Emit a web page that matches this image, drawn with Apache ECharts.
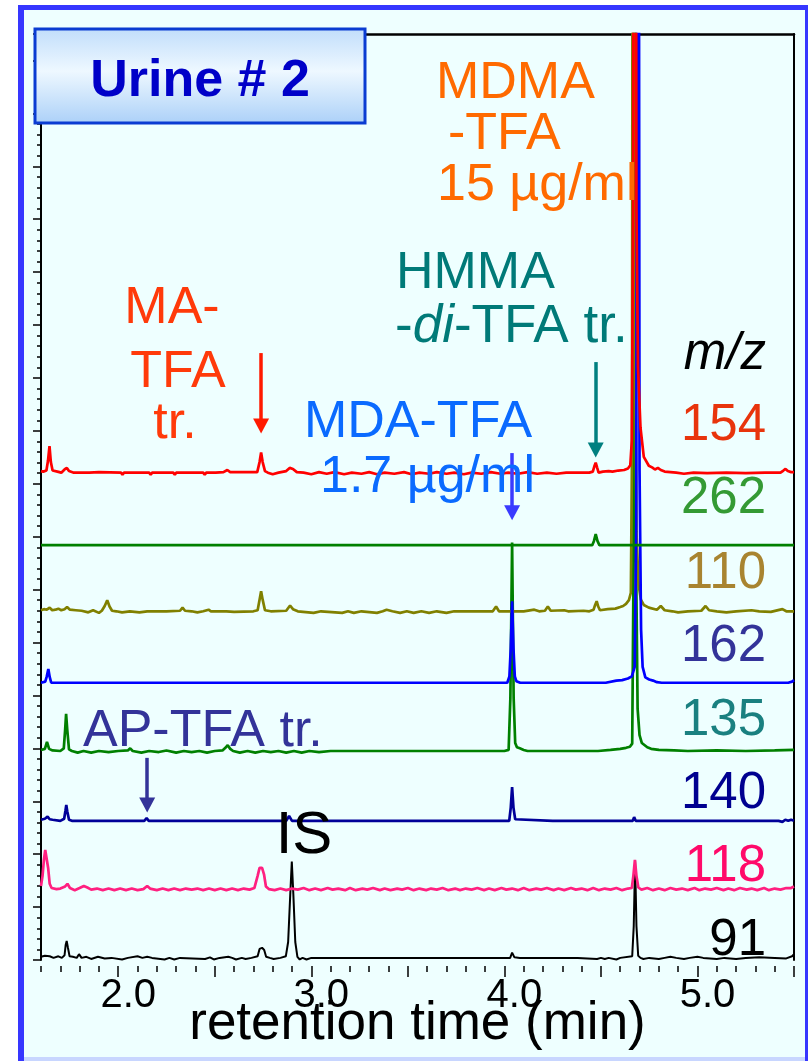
<!DOCTYPE html>
<html><head><meta charset="utf-8">
<script src="https://cdn.jsdelivr.net/npm/echarts@6/dist/echarts.min.js"></script>
<style>html,body{margin:0;padding:0;background:#fff}#c{width:808px;height:1061px}</style>
</head><body><div id="c"></div><script>
// ---------- data ----------
const traceIds = ['154','262','110','162','135','140','118','91'];
const traceColors = ['#ff0000','#008000','#808000','#0000ff','#008000','#000099','#ff2080','#000000'];
const labelColors = ['#e8340c','#349a34','#a88430','#333399','#1a8080','#000090','#ff0a6a','#000000'];
const baselines = [9.21,7.84,6.59,5.24,3.95,2.63,1.34,0.04];
const drawOrder = ['91','118','140','135','110','162','262','154'];

const trace154 = [[1.600,0.03],[1.612,0.02],[1.628,0.04],[1.636,0.22],[1.644,0.50],[1.651,0.20],[1.660,0.04],[1.685,0.02],[1.705,0.00],[1.722,0.06],[1.734,0.09],[1.745,0.03],[1.770,0.00],[1.850,0.00],[1.900,0.01],[2.015,0.00],[2.022,-0.04],[2.030,0.00],[2.160,0.00],[2.168,-0.04],[2.176,0.00],[2.285,0.00],[2.293,-0.04],[2.300,0.00],[2.440,0.00],[2.448,-0.04],[2.456,0.00],[2.490,0.00],[2.497,-0.03],[2.505,0.00],[2.545,0.01],[2.565,0.05],[2.580,0.01],[2.720,0.01],[2.732,0.20],[2.740,0.38],[2.748,0.20],[2.760,0.03],[2.775,0.00],[2.800,-0.03],[2.830,0.00],[2.870,0.03],[2.888,0.09],[2.905,0.07],[2.925,0.01],[2.960,0.00],[3.000,-0.03],[3.040,0.01],[3.080,-0.02],[3.120,0.01],[3.170,-0.03],[3.210,0.00],[3.260,-0.02],[3.300,0.01],[3.340,-0.03],[3.380,0.00],[3.430,-0.02],[3.480,0.01],[3.520,-0.03],[3.560,0.00],[3.610,-0.02],[3.650,0.01],[3.700,-0.02],[3.740,0.00],[3.790,-0.03],[3.830,0.00],[3.880,-0.02],[3.930,0.01],[3.980,-0.02],[4.020,0.00],[4.070,-0.02],[4.120,0.01],[4.170,-0.02],[4.220,0.00],[4.270,-0.02],[4.320,0.00],[4.380,0.00],[4.440,0.00],[4.458,0.02],[4.466,0.12],[4.473,0.19],[4.480,0.10],[4.488,0.00],[4.498,-0.03],[4.510,0.02],[4.540,0.03],[4.560,0.02],[4.590,0.04],[4.620,0.05],[4.640,0.08],[4.652,0.14],[4.660,0.6],[4.667,5],[4.675,30],[4.684,5],[4.692,2],[4.705,0.85],[4.722,0.30],[4.748,0.13],[4.765,0.10],[4.780,0.06],[4.795,0.09],[4.810,0.05],[4.830,0.02],[4.860,0.01],[4.890,0.00],[4.930,-0.02],[4.980,0.00],[5.050,-0.01],[5.150,0.00],[5.250,-0.01],[5.350,0.00],[5.430,0.00],[5.445,0.04],[5.456,0.07],[5.468,0.03],[5.485,0.01],[5.500,0.01]];
const trace262 = [[1.600,0],[4.455,0],[4.464,0.08],[4.473,0.21],[4.482,0.08],[4.492,0],[5.500,0]];
const trace110 = [[1.600,0.02],[1.615,0.04],[1.630,0.03],[1.645,0.07],[1.658,0.02],[1.675,0.03],[1.690,0.05],[1.705,0.02],[1.722,0.04],[1.735,0.08],[1.750,0.03],[1.780,0.02],[1.810,0.01],[1.845,-0.02],[1.870,0.02],[1.900,-0.03],[1.915,0.01],[1.930,0.10],[1.943,0.21],[1.955,0.09],[1.968,0.01],[1.990,0.00],[2.020,-0.02],[2.060,0.00],[2.110,-0.02],[2.150,0.00],[2.250,0.00],[2.320,0.01],[2.333,0.07],[2.346,0.01],[2.380,0.00],[2.410,-0.02],[2.440,0.00],[2.468,0.03],[2.480,0.00],[2.560,0.00],[2.600,-0.01],[2.700,0.00],[2.722,0.02],[2.732,0.22],[2.740,0.38],[2.748,0.22],[2.760,0.02],[2.790,0.00],[2.870,0.01],[2.890,0.11],[2.905,0.04],[2.930,0.00],[3.012,-0.03],[3.050,0.00],[3.160,-0.03],[3.190,0.00],[3.220,-0.03],[3.260,0.00],[3.340,-0.03],[3.370,0.00],[3.390,0.03],[3.420,0.00],[3.460,-0.03],[3.495,0.00],[3.530,-0.03],[3.570,0.00],[3.610,-0.03],[3.650,0.00],[3.700,-0.03],[3.740,0.00],[3.860,0.00],[3.940,0.00],[3.957,0.09],[3.972,0.00],[4.000,0.00],[4.100,0.00],[4.155,0.03],[4.180,0.00],[4.210,0.01],[4.225,0.09],[4.240,0.01],[4.310,0.02],[4.330,0.00],[4.410,0.01],[4.440,0.00],[4.462,0.03],[4.470,0.12],[4.478,0.19],[4.486,0.09],[4.495,0.02],[4.535,0.04],[4.575,0.05],[4.600,0.08],[4.615,0.10],[4.630,0.14],[4.645,0.21],[4.655,0.35],[4.661,3],[4.668,30],[4.676,5],[4.684,1.5],[4.695,0.5],[4.707,0.22],[4.722,0.12],[4.748,0.07],[4.790,0.03],[4.810,0.10],[4.830,0.02],[4.870,0.00],[4.900,-0.02],[4.950,0.00],[5.020,0.01],[5.042,0.10],[5.060,0.02],[5.100,0.00],[5.150,-0.02],[5.200,0.00],[5.280,0.02],[5.320,0.00],[5.380,-0.01],[5.440,0.04],[5.460,0.00],[5.500,0.00]];
const trace162 = [[1.600,0.00],[1.622,0.02],[1.630,0.12],[1.638,0.26],[1.645,0.11],[1.653,0.00],[4.015,0.00],[4.026,0.12],[4.033,0.65],[4.040,1.54],[4.047,0.65],[4.054,0.12],[4.062,0.03],[4.072,0.05],[4.082,0.00],[4.525,0.00],[4.530,0.03],[4.580,0.04],[4.610,0.05],[4.640,0.08],[4.660,0.12],[4.675,0.30],[4.683,3],[4.692,30],[4.700,4],[4.708,1],[4.716,0.30],[4.730,0.10],[4.750,0.06],[4.770,0.04],[4.790,0.01],[4.800,0.03],[4.815,0.00],[5.470,0.00],[5.490,0.02],[5.500,0.05]];
const trace135 = [[1.600,0.02],[1.620,0.04],[1.631,0.17],[1.642,0.04],[1.660,0.01],[1.700,0.00],[1.718,0.05],[1.725,0.40],[1.730,0.70],[1.736,0.40],[1.745,0.03],[1.760,0.00],[1.790,-0.03],[1.820,0.00],[1.860,-0.03],[1.900,0.00],[1.950,-0.02],[2.000,0.00],[2.050,0.01],[2.062,0.05],[2.075,0.00],[2.120,-0.03],[2.160,0.00],[2.210,-0.02],[2.250,0.01],[2.300,-0.03],[2.340,0.00],[2.380,-0.02],[2.420,0.00],[2.460,-0.03],[2.500,0.00],[2.540,0.01],[2.555,0.06],[2.567,0.11],[2.580,0.04],[2.595,0.00],[2.630,-0.03],[2.670,0.00],[2.710,-0.03],[2.750,0.00],[2.790,-0.02],[2.830,0.00],[2.870,-0.03],[2.910,0.00],[2.950,-0.03],[2.990,0.00],[3.040,-0.02],[3.100,0.00],[3.500,0.00],[3.700,0.00],[4.000,0.00],[4.022,0.02],[4.031,1.0],[4.040,3.94],[4.048,1.0],[4.056,0.15],[4.065,0.07],[4.080,0.05],[4.100,0.02],[4.120,0.00],[4.460,0.00],[4.470,0.03],[4.485,0.00],[4.550,0.02],[4.600,0.04],[4.630,0.06],[4.650,0.08],[4.662,0.14],[4.668,3],[4.674,30],[4.681,4],[4.690,0.8],[4.700,0.30],[4.712,0.15],[4.740,0.07],[4.760,0.04],[4.800,0.02],[4.880,0.01],[4.950,0.00],[5.100,0.01],[5.250,0.00],[5.400,0.01],[5.500,0.02]];
const trace140 = [[1.600,0.02],[1.620,0.04],[1.634,0.08],[1.645,0.03],[1.660,0.02],[1.700,0.00],[1.720,0.04],[1.727,0.20],[1.731,0.30],[1.736,0.18],[1.745,0.02],[1.760,0.00],[2.135,0.00],[2.147,0.05],[2.158,0.00],[2.870,0.00],[2.885,0.09],[2.900,0.00],[3.520,0.00],[3.525,-0.03],[3.530,0.00],[3.640,0.00],[3.645,-0.03],[3.650,0.00],[3.740,0.00],[3.745,-0.02],[3.750,0.00],[3.800,0.00],[3.805,-0.02],[3.810,0.00],[4.025,0.00],[4.033,0.25],[4.040,0.64],[4.047,0.25],[4.056,0.03],[4.066,0.00],[4.250,0.00],[4.255,-0.03],[4.260,0.00],[4.290,0.00],[4.295,-0.03],[4.300,0.00],[4.665,0.00],[4.672,0.07],[4.680,0.00],[4.740,0.00],[4.745,-0.02],[4.750,0.00],[4.790,0.00],[4.795,-0.02],[4.800,0.00],[5.070,0.00],[5.075,0.03],[5.080,0.00],[5.240,0.00],[5.250,0.03],[5.260,0.00],[5.420,0.00],[5.430,0.03],[5.440,-0.02],[5.455,0.02],[5.470,0.00],[5.485,0.02],[5.500,0.00]];
const trace118 = [[1.600,0.06],[1.608,0.25],[1.615,0.55],[1.622,0.74],[1.630,0.72],[1.637,0.40],[1.645,0.10],[1.655,0.02],[1.680,0.00],[1.700,0.01],[1.725,0.05],[1.737,0.10],[1.750,0.02],[1.775,-0.02],[1.800,0.02],[1.822,0.06],[1.840,0.03],[1.860,-0.01],[1.890,0.01],[1.920,-0.02],[1.950,0.01],[1.980,-0.02],[2.010,0.01],[2.040,-0.02],[2.070,0.01],[2.100,-0.02],[2.130,0.00],[2.150,0.06],[2.165,0.01],[2.200,-0.02],[2.230,0.01],[2.260,-0.02],[2.290,0.01],[2.320,-0.02],[2.350,0.01],[2.380,-0.01],[2.410,0.01],[2.440,-0.02],[2.470,0.01],[2.500,-0.02],[2.530,0.01],[2.560,-0.02],[2.590,0.01],[2.620,-0.02],[2.650,0.01],[2.680,-0.01],[2.705,0.02],[2.722,0.25],[2.732,0.40],[2.745,0.40],[2.755,0.28],[2.765,0.05],[2.780,0.00],[2.810,-0.02],[2.840,0.01],[2.870,-0.02],[2.900,0.01],[2.930,-0.01],[2.960,0.02],[2.990,-0.02],[3.020,0.01],[3.050,-0.02],[3.085,0.02],[3.110,-0.01],[3.140,0.01],[3.175,-0.02],[3.200,0.02],[3.230,-0.02],[3.265,0.01],[3.290,-0.01],[3.320,0.02],[3.355,-0.02],[3.380,0.01],[3.410,-0.02],[3.445,0.01],[3.470,-0.01],[3.500,0.02],[3.530,-0.02],[3.560,0.01],[3.595,-0.02],[3.620,0.01],[3.650,-0.01],[3.680,0.02],[3.710,-0.02],[3.745,0.01],[3.770,-0.02],[3.800,0.01],[3.830,-0.01],[3.860,0.02],[3.895,-0.02],[3.920,0.01],[3.950,-0.02],[3.985,0.02],[4.010,-0.01],[4.040,0.01],[4.070,-0.02],[4.100,0.02],[4.130,-0.02],[4.165,0.01],[4.190,-0.01],[4.220,0.02],[4.255,-0.02],[4.280,0.01],[4.310,-0.02],[4.345,0.02],[4.370,-0.01],[4.400,0.01],[4.430,-0.02],[4.460,0.02],[4.490,-0.02],[4.520,0.01],[4.550,-0.01],[4.580,0.02],[4.610,-0.02],[4.640,0.01],[4.660,0.02],[4.668,0.25],[4.676,0.55],[4.684,0.25],[4.694,0.03],[4.710,-0.01],[4.740,0.02],[4.770,-0.02],[4.800,0.01],[4.830,-0.02],[4.860,0.02],[4.890,-0.01],[4.920,0.01],[4.950,-0.02],[4.985,0.02],[5.010,-0.02],[5.040,0.01],[5.070,-0.01],[5.100,0.02],[5.135,-0.02],[5.160,0.01],[5.190,-0.02],[5.220,0.02],[5.255,-0.01],[5.280,0.01],[5.310,-0.02],[5.345,0.02],[5.370,-0.02],[5.400,0.01],[5.430,-0.01],[5.460,0.02],[5.485,0.02],[5.500,0.05]];
const trace91 = [[1.600,0.02],[1.620,0.04],[1.645,0.03],[1.665,0.00],[1.690,0.03],[1.708,0.00],[1.722,0.05],[1.728,0.25],[1.733,0.32],[1.739,0.20],[1.748,0.03],[1.765,0.02],[1.785,0.00],[1.797,0.07],[1.810,0.00],[1.835,0.02],[1.860,-0.02],[1.895,0.02],[1.930,-0.01],[1.965,0.00],[2.020,-0.03],[2.050,0.00],[2.100,0.03],[2.125,0.00],[2.150,0.02],[2.175,0.00],[2.240,-0.03],[2.265,0.00],[2.290,-0.03],[2.320,0.00],[2.450,-0.02],[2.475,0.01],[2.495,-0.03],[2.525,0.00],[2.570,0.02],[2.590,0.00],[2.610,-0.03],[2.640,0.00],[2.660,-0.02],[2.690,0.00],[2.722,0.03],[2.732,0.17],[2.745,0.19],[2.756,0.15],[2.766,0.02],[2.785,0.00],[2.805,-0.02],[2.840,0.00],[2.868,0.03],[2.880,0.30],[2.891,1.20],[2.899,1.82],[2.907,1.20],[2.917,0.30],[2.928,0.02],[2.940,-0.03],[2.955,0.00],[2.975,-0.03],[3.000,0.00],[3.260,0.00],[3.270,-0.02],[3.285,0.00],[3.600,0.00],[3.800,0.00],[4.030,0.00],[4.040,0.10],[4.052,0.01],[4.080,0.00],[4.300,0.00],[4.310,-0.02],[4.320,0.00],[4.360,0.00],[4.370,-0.02],[4.380,0.00],[4.480,-0.02],[4.500,0.00],[4.520,-0.02],[4.540,0.00],[4.580,-0.03],[4.600,0.00],[4.662,0.03],[4.670,0.60],[4.677,1.84],[4.684,0.60],[4.693,0.04],[4.705,0.00],[4.720,-0.02],[4.750,0.00],[4.800,-0.02],[4.830,0.00],[4.860,0.02],[4.890,0.00],[4.930,-0.02],[4.960,0.00],[5.000,0.02],[5.030,0.00],[5.100,-0.02],[5.140,0.00],[5.200,-0.02],[5.250,0.00],[5.320,0.01],[5.400,0.00],[5.460,-0.01],[5.490,0.03],[5.500,0.07]];
const traces = [trace154,trace262,trace110,trace162,trace135,trace140,trace118,trace91];

const xMinorTickStep = 0.1;
const xMajorTicks = [2.0,2.5,3.0,3.5,4.0,4.5,5.0,5.5];
const xTickLabels = [2,3,4,5];
const xTitle = 'retention time (min)';
const panelTitle = 'Urine # 2';

// ---------- chart ----------
const FONT = '"Liberation Sans", Arial, Helvetica, sans-serif';
const chart = echarts.init(document.getElementById('c'));

const series = drawOrder.map(id => {
  const i = traceIds.indexOf(id);
  return {
    type: 'line', name: 'm/z ' + id,
    data: traces[i].map(p => [p[0], baselines[i] + p[1]]),
    showSymbol: false, symbol: 'none', silent: true, animation: false,
    lineStyle: { color: traceColors[i], width: id === '91' ? 2 : 2.7 },
    clip: true
  };
});

// arrows
const arrowSeries = series[drawOrder.indexOf('262')];
arrowSeries.markLine = {
  silent: true, animation: false,
  symbol: ['none', 'triangle'], symbolSize: [16, 15],
  label: { show: false },
  lineStyle: { width: 3.5, type: 'solid' },
  data: [
    [{ coord: [2.74, 11.47], lineStyle: { color: '#ff1a00', width: 3.5, type: 'solid' } }, { coord: [2.74, 10.09] }],
    [{ coord: [4.473, 11.30], lineStyle: { color: '#008080', width: 3.5, type: 'solid' } }, { coord: [4.473, 9.64] }],
    [{ coord: [4.04, 9.58], lineStyle: { color: '#3a3aff', width: 3.5, type: 'solid' } }, { coord: [4.04, 8.45] }],
    [{ coord: [2.15, 3.82], lineStyle: { color: '#333399', width: 3.5, type: 'solid' } }, { coord: [2.15, 2.93] }]
  ]
};

function txt(text, x, y, fill, opts) {
  opts = opts || {};
  return {
    type: 'text', x: x, y: y, z: 60, silent: true,
    style: Object.assign({
      text: text, fill: fill, fontSize: opts.size || 52, fontFamily: FONT,
      fontWeight: opts.weight || 'normal', fontStyle: opts.style || 'normal',
      align: opts.align || 'left', verticalAlign: 'middle'
    }, opts.extra || {})
  };
}

const mzY = [426, 499, 574, 647, 721, 794, 867, 941];
const graphic = [
  { type: 'rect', z: -10, silent: true, shape: { x: 24, y: 10, width: 781, height: 1047 }, style: { fill: '#eeffff' } },
  { type: 'rect', z: -9, silent: true, shape: { x: 18, y: 5, width: 6, height: 1056 }, style: { fill: '#3636ff' } },
  { type: 'rect', z: -9, silent: true, shape: { x: 18, y: 5, width: 790, height: 5 }, style: { fill: '#3636ff' } },
  { type: 'rect', z: -9, silent: true, shape: { x: 805, y: 5, width: 3, height: 1056 }, style: { fill: '#3636ff' } },
  { type: 'rect', z: -9, silent: true, shape: { x: 24, y: 1057, width: 781, height: 4 }, style: { fill: '#c8d6ff' } },
  { type: 'rect', z: 50, silent: true, shape: { x: 35, y: 29, width: 330, height: 94 },
    style: { fill: new echarts.graphic.LinearGradient(0, 0, 0, 1, [
      { offset: 0, color: '#c0ddfb' }, { offset: 0.45, color: '#eef8ff' }, { offset: 1, color: '#abd0f8' }]),
      stroke: '#0a3cd2', lineWidth: 3 } },
  txt(panelTitle, 200, 82, '#0000c8', { weight: 'bold', align: 'center' }),
  txt('MDMA', 436, 83.5, '#ff6a00'),
  txt('-TFA', 448, 135, '#ff6a00'),
  txt('15 µg/ml', 437, 186, '#ff6a00'),
  txt('HMMA', 396, 273.5, '#007a78'),
  txt('-{i|di}-TFA tr.', 395, 327.5, '#007a78', { size: 53, extra: { rich: { i: { fontStyle: 'italic', fontSize: 53, fontFamily: FONT, fill: '#007a78' } } } }),
  txt('MA-', 172, 309, '#ff3a0a', { align: 'center' }),
  txt('TFA', 178, 372.5, '#ff3a0a', { align: 'center' }),
  txt('tr.', 175, 424, '#ff3a0a', { align: 'center' }),
  txt('MDA-TFA', 304, 422.5, '#0a6aff'),
  txt('1.7 µg/ml', 320, 478, '#0a6aff'),
  txt('AP-TFA tr.', 83, 732, '#333399'),
  txt('IS', 304, 836, '#000000', { size: 60, align: 'center' }),
  txt('m/z', 766, 355, '#000000', { size: 51, style: 'italic', align: 'right' })
];
traceIds.forEach((id, i) => graphic.push(txt(id, 766, mzY[i], labelColors[i], { size: 51, align: 'right' })));

chart.setOption({
  backgroundColor: '#ffffff',
  animation: false,
  grid: { left: 41, right: 14, top: 34, bottom: 101, containLabel: false, outerBoundsMode: 'none' },
  xAxis: [
    { type: 'value', position: 'bottom', min: 1.6, max: 5.5, interval: xMinorTickStep, offset: 6,
      axisLine: { show: false, onZero: false },
      axisTick: { show: true, length: 6, lineStyle: { color: '#000', width: 1.5 } },
      axisLabel: { show: false }, splitLine: { show: false } },
    { type: 'value', position: 'bottom', min: 1.6, max: 5.5, offset: 6,
      axisLine: { show: false, onZero: false },
      axisTick: { show: true, length: 11, customValues: xMajorTicks, lineStyle: { color: '#000', width: 1.5 } },
      axisLabel: { show: true, customValues: xTickLabels, formatter: v => Number(v).toFixed(1),
        fontSize: 40, fontFamily: FONT, color: '#000', margin: 10, padding: [0, 0, 0, 20] },
      splitLine: { show: false },
      name: xTitle, nameLocation: 'middle', nameGap: 32, nameMoveOverlap: false,
      nameTextStyle: { fontSize: 53, fontFamily: FONT, color: '#000' } },
    { type: 'value', position: 'top', min: 1.6, max: 5.5,
      axisLine: { show: true, onZero: false, lineStyle: { color: '#000', width: 2.5 } },
      axisTick: { show: false }, axisLabel: { show: false }, splitLine: { show: false } }
  ],
  yAxis: [
    { type: 'value', position: 'left', min: 0, max: 17.5, interval: 1,
      axisLine: { show: true, onZero: false, lineStyle: { color: '#000', width: 2 } },
      axisTick: { show: true, length: 8, lineStyle: { color: '#000', width: 1.5 } },
      minorTick: { show: true, splitNumber: 5, length: 4, lineStyle: { color: '#000', width: 1.5 } },
      axisLabel: { show: false }, splitLine: { show: false }, minorSplitLine: { show: false } },
    { type: 'value', position: 'right', min: 0, max: 17.5,
      axisLine: { show: true, onZero: false, lineStyle: { color: '#000', width: 2 } },
      axisTick: { show: false }, axisLabel: { show: false }, splitLine: { show: false } }
  ],
  series: series,
  graphic: graphic
});
</script></body></html>
